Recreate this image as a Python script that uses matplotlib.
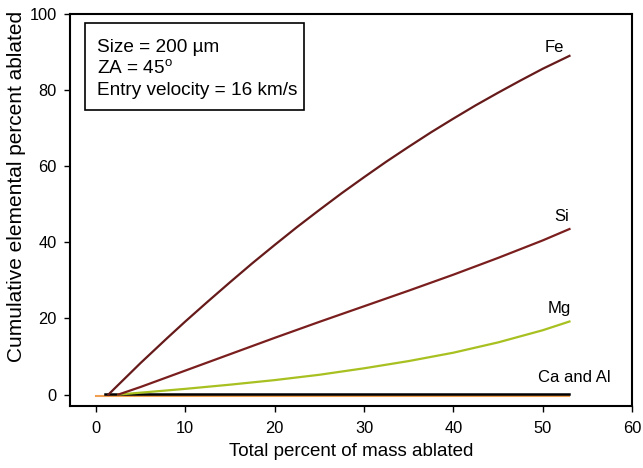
import matplotlib.pyplot as plt
from matplotlib.patches import Rectangle

plt.rcParams['font.family'] = ['Liberation Sans', 'DejaVu Sans']
plt.rcParams['mathtext.fontset'] = 'custom'
plt.rcParams['mathtext.rm'] = 'Liberation Sans'

# values
fe_x = [1.4, 2, 3, 4, 5, 6, 7, 8, 10, 12.5, 15, 17.5, 20, 22.5, 25, 27.5, 30,
        32.5, 35, 37.5, 40, 42.5, 45, 47.5, 50, 53]
fe_y = [0, 1.4, 3.7, 6.0, 8.3, 10.5, 12.7, 14.9, 19.2, 24.4, 29.5, 34.5, 39.3,
        44.0, 48.5, 52.9, 57.1, 61.2, 65.1, 68.9, 72.5, 76.0, 79.3, 82.5, 85.6, 89.0]
si_x = [2.5, 5, 10, 15, 20, 25, 30, 35, 40, 45, 50, 53]
si_y = [0, 2.0, 6.3, 10.6, 14.9, 19.1, 23.2, 27.3, 31.5, 35.9, 40.5, 43.5]
mg_x = [2.5, 5, 10, 15, 20, 25, 30, 35, 40, 45, 50, 53]
mg_y = [0, 0.5, 1.5, 2.6, 3.8, 5.2, 6.9, 8.8, 11.0, 13.7, 16.9, 19.2]
ca_x = [0, 53]
ca_y = [-0.35, -0.35]
al_x = [1, 53]
al_y = [0.15, 0.15]

fig = plt.figure(figsize=(6.43, 4.68), dpi=100)
ax = fig.add_axes([0.1089, 0.1325, 0.874, 0.8376])

ax.plot(ca_x, ca_y, color='#f0a050', lw=1.5)
ax.plot(al_x, al_y, color='black', lw=1.8)
ax.plot(mg_x, mg_y, color='#a8c020', lw=1.6)
ax.plot(si_x, si_y, color='#7a1e1e', lw=1.6)
ax.plot(fe_x, fe_y, color='#661a1a', lw=1.6)

ax.text(51.3, 90, 'Fe', fontsize=12, ha='center', va='baseline')
ax.text(52.1, 45.7, 'Si', fontsize=12, ha='center', va='baseline')
ax.text(51.9, 21.5, 'Mg', fontsize=12, ha='center', va='baseline')
ax.text(53.5, 3.4, 'Ca and Al', fontsize=12, ha='center', va='baseline')

# info box
ax.add_patch(Rectangle((0.0267, 0.755), 0.3897, 0.222, transform=ax.transAxes,
                       fc='white', ec='black', lw=1.2, zorder=5))
box_lines = ['Size = 200 \u00b5m', 'ZA = 45$^{\\mathrm{o}}$', 'Entry velocity = 16 km/s']
for i, line in enumerate(box_lines):
    ax.text(0.048, 0.903 - i * 0.055, line, transform=ax.transAxes,
            fontsize=13.7, va='baseline', ha='left', zorder=6)

ax.set_xlim(-2.9, 60)
ax.set_ylim(-3, 100)
ax.set_xticks([0, 10, 20, 30, 40, 50, 60])
ax.set_yticks([0, 20, 40, 60, 80, 100])
ax.tick_params(labelsize=11.8, length=4.5, width=1, pad=5)
ax.tick_params(axis='x', pad=6)
for s in ax.spines.values():
    s.set_linewidth(1.5)
ax.set_xlabel('Total percent of mass ablated', fontsize=13.5, labelpad=5)
ax.set_ylabel('Cumulative elemental percent ablated', fontsize=15)
ax.yaxis.set_label_coords(-0.078, 0.561)

fig.savefig('out.png', dpi=100)
